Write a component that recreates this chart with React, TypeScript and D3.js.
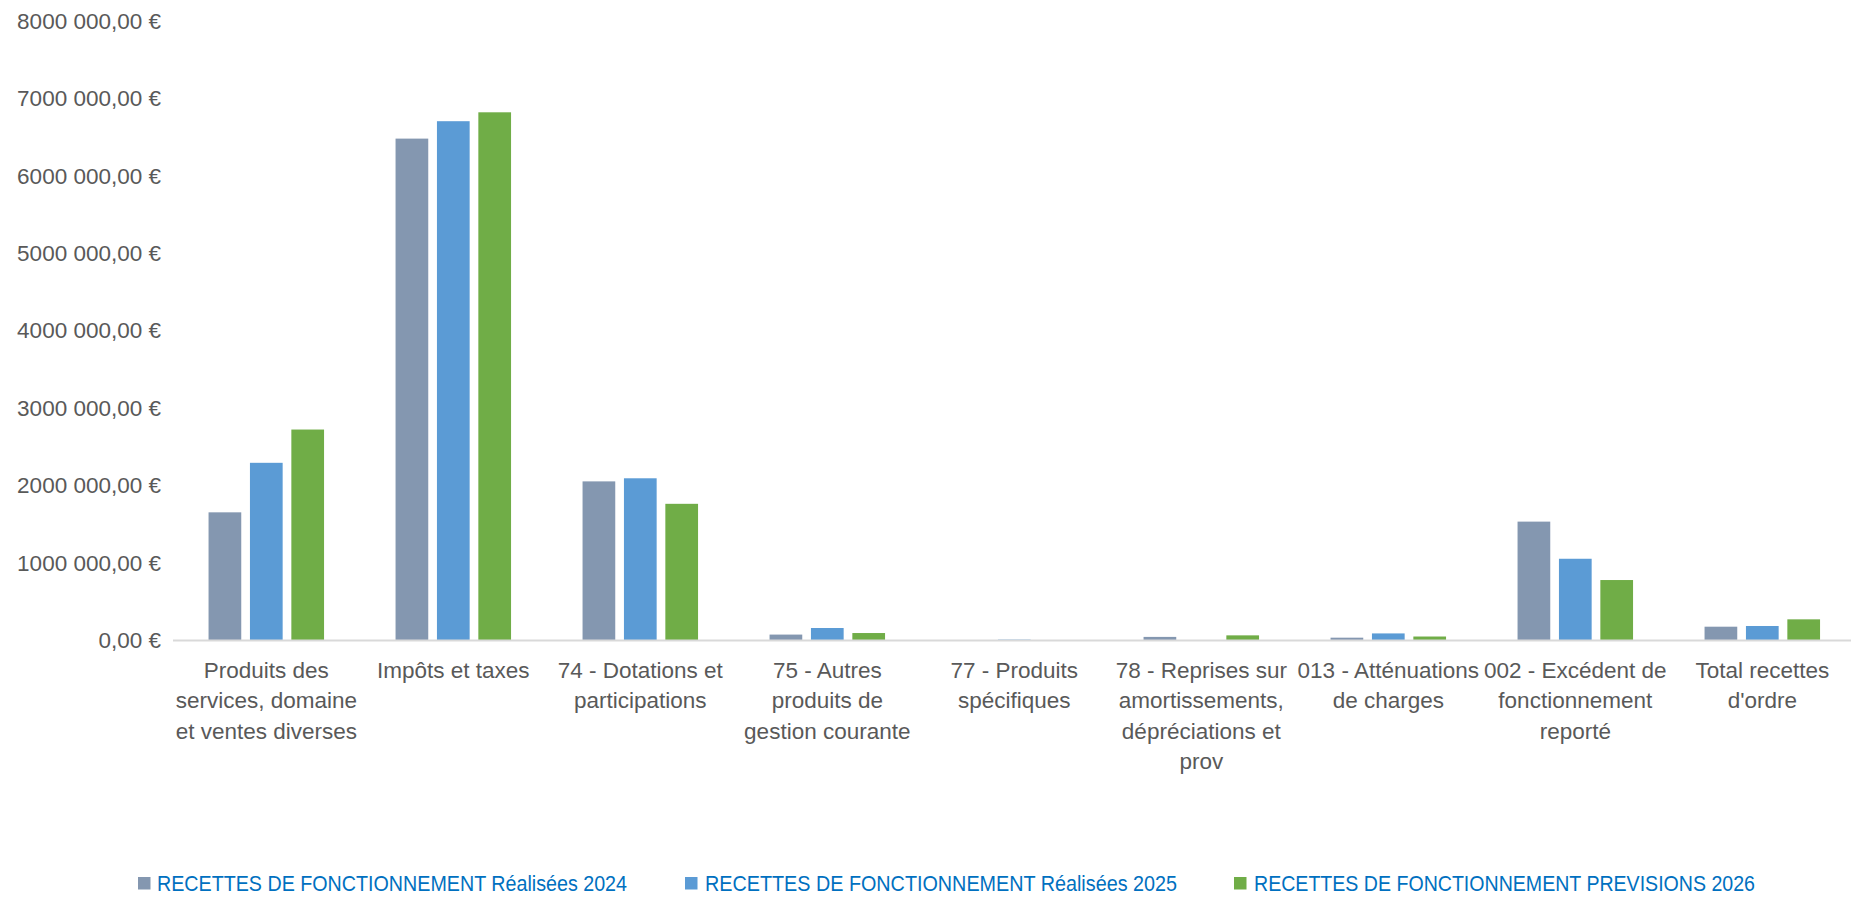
import React from "react";
import * as d3 from "d3";

const categories = [
  "Produits des\nservices, domaine\net ventes diverses",
  "Impôts et taxes",
  "74 - Dotations et\nparticipations",
  "75 - Autres\nproduits de\ngestion courante",
  "77 - Produits\nspécifiques",
  "78 - Reprises sur\namortissements,\ndépréciations et\nprov",
  "013 - Atténuations\nde charges",
  "002 - Excédent de\nfonctionnement\nreporté",
  "Total recettes\nd'ordre",
];

const seriesNames = [
  "RECETTES DE FONCTIONNEMENT Réalisées 2024",
  "RECETTES DE FONCTIONNEMENT Réalisées 2025",
  "RECETTES DE FONCTIONNEMENT PREVISIONS 2026",
];

const values2024 = [1650000, 6480000, 2050000, 70000, 0, 40000, 30000, 1530000, 172000];
const values2025 = [2290000, 6705000, 2090000, 155000, 5000, 0, 85000, 1050000, 181000];
const values2026 = [2720000, 6820000, 1760000, 90000, 0, 60000, 45000, 775000, 267000];

const yTickValues = [0, 1000000, 2000000, 3000000, 4000000, 5000000, 6000000, 7000000, 8000000];
const yTickLabels = [
  "0,00 €",
  "1000 000,00 €",
  "2000 000,00 €",
  "3000 000,00 €",
  "4000 000,00 €",
  "5000 000,00 €",
  "6000 000,00 €",
  "7000 000,00 €",
  "8000 000,00 €",
];

const colors = ["#8497B0", "#5B9BD5", "#70AD47"];

const W = 1851;
const H = 898;
const FONT = "'Liberation Sans', Arial, sans-serif";

export default function App() {
  const series = [values2024, values2025, values2026];
  const x = d3
    .scaleBand<string>()
    .domain(categories)
    .range([172.8, 172.8 + 187 * categories.length])
    .paddingInner(0)
    .paddingOuter(0);
  const bw = x.bandwidth();
  const groupW = 115.5;
  const xs = d3
    .scaleBand<number>()
    .domain([0, 1, 2])
    .range([(bw - groupW) / 2, (bw + groupW) / 2])
    .paddingInner(0.21)
    .paddingOuter(0);
  const y = d3.scaleLinear().domain([0, 8000000]).range([640, 21]);

  const legendSquares = [138, 685, 1234];
  const legendTextX = [157, 705, 1254];
  const legendTextLen = [470, 472, 501];

  return (
    <div style={{ position: "absolute", left: 0, top: 0 }}>
      <svg width={W} height={H} style={{ display: "block", background: "#fff" }}>
        {yTickValues.map((v, i) => (
          <text
            key={"y" + i}
            x={161}
            y={y(v)}
            dy="0.35em"
            textAnchor="end"
            fontFamily={FONT}
            fontSize={22.5}
            fill="#595959"
          >
            {yTickLabels[i]}
          </text>
        ))}
        {categories.map((c, ci) => (
          <g key={"g" + ci} transform={`translate(${x(c)},0)`}>
            {series.map((s, si) => {
              const v = s[ci];
              if (v <= 0) return null;
              return (
                <rect
                  key={si}
                  x={xs(si)}
                  y={y(v)}
                  width={xs.bandwidth()}
                  height={y(0) - y(v)}
                  fill={colors[si]}
                />
              );
            })}
          </g>
        ))}
        <line x1={173} x2={W} y1={640.5} y2={640.5} stroke="#D9D9D9" strokeWidth={2} />
        {categories.map((c, ci) => {
          const cx = (x(c) as number) + bw / 2;
          return (
            <text
              key={"xl" + ci}
              textAnchor="middle"
              fontFamily={FONT}
              fontSize={22.5}
              fill="#595959"
            >
              {c.split("\n").map((line, li) => (
                <tspan key={li} x={cx} y={678 + li * 30.3}>
                  {line}
                </tspan>
              ))}
            </text>
          );
        })}
        {seriesNames.map((n, i) => (
          <g key={"lg" + i}>
            <rect x={legendSquares[i]} y={877} width={12.5} height={12.5} fill={colors[i]} />
            <text
              x={legendTextX[i]}
              y={883}
              dy="0.35em"
              fontFamily={FONT}
              fontSize={22}
              fill="#0070C0"
              textLength={legendTextLen[i]}
              lengthAdjust="spacingAndGlyphs"
            >
              {n}
            </text>
          </g>
        ))}
      </svg>
    </div>
  );
}
